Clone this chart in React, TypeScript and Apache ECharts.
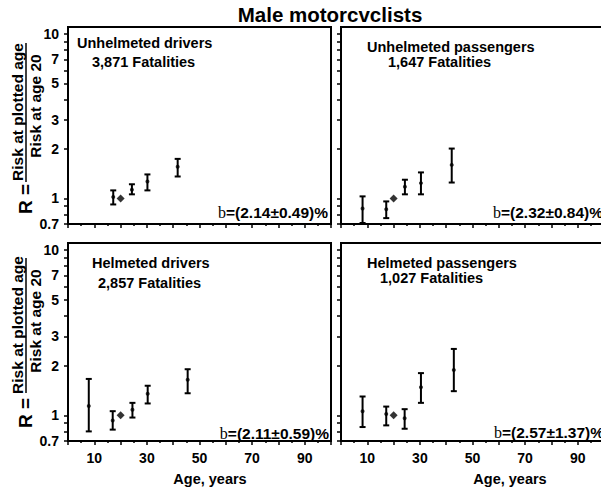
import { useEffect, useRef } from "react";
import * as echarts from "echarts";

// ---- data ----
const panelTitles = ["Unhelmeted drivers", "Unhelmeted passengers", "Helmeted drivers", "Helmeted passengers"];
const panelCounts = ["3,871 Fatalities", "1,647 Fatalities", "2,857 Fatalities", "1,027 Fatalities"];
const panelSlopes = ["=(2.14±0.49)%", "=(2.32±0.84)%", "=(2.11±0.59)%", "=(2.57±1.37)%"];

const refAge = 20;
const refR = 1;

const agesUD = [17.2, 24.3, 30.2, 41.7];
const rUD = [1.02, 1.13, 1.27, 1.56];
const loUD = [0.92, 1.06, 1.12, 1.36];
const hiUD = [1.12, 1.22, 1.4, 1.74];

const agesUP = [8.2, 17.2, 24.3, 30.4, 42.1];
const rUP = [0.87, 0.86, 1.18, 1.24, 1.6];
const loUP = [0.71, 0.76, 1.06, 1.06, 1.25];
const hiUP = [1.03, 0.96, 1.3, 1.44, 2.01];

const agesHD = [7.9, 17.0, 24.5, 30.3, 45.5];
const rHD = [1.14, 0.93, 1.08, 1.35, 1.64];
const loHD = [0.8, 0.82, 0.97, 1.18, 1.36];
const hiHD = [1.66, 1.06, 1.19, 1.51, 1.9];

const agesHP = [8.2, 17.2, 24.2, 30.4, 42.9];
const rHP = [1.06, 1.02, 0.96, 1.48, 1.88];
const loHP = [0.85, 0.87, 0.83, 1.19, 1.4];
const hiHP = [1.3, 1.13, 1.09, 1.8, 2.52];

const yTickValues = [0.7, 0.8, 0.9, 1, 2, 3, 4, 5, 6, 7, 8, 9, 10];
const yLabelValues = [0.7, 1, 2, 3, 5, 7, 10];
const xLabelValues = [10, 30, 50, 70, 90];
const yMin = 0.7;
const yMax = 11;
const xMin = 0;
const xMax = 100;

const FONT = "'Liberation Sans', Arial, sans-serif";

const panels = [
  { ages: agesUD, r: rUD, lo: loUD, hi: hiUD },
  { ages: agesUP, r: rUP, lo: loUP, hi: hiUP },
  { ages: agesHD, r: rHD, lo: loHD, hi: hiHD },
  { ages: agesHP, r: rHP, lo: loHP, hi: hiHP },
];

// the chart canvas is wider than the visible 601 px; the right-hand panels run past the edge
const CHART_W = 640;
const gridPos = [
  { left: 68, top: 27, width: 263, height: 197 },
  { left: 341, top: 27, width: 263, height: 197 },
  { left: 68, top: 243, width: 263, height: 198 },
  { left: 341, top: 243, width: 263, height: 198 },
];

function fmtY(v: number) {
  const r = Math.pow(10, v);
  return r < 0.95 ? r.toFixed(1) : String(Math.round(r));
}

export default function App() {
  const ref = useRef<HTMLDivElement>(null);
  useEffect(() => {
    if (!ref.current) return;
    const chart = echarts.init(ref.current, null, { renderer: "svg" });
    const L = Math.log10;

    const grid = gridPos.map((g) => ({
      ...g,
      outerBoundsMode: "none",
      containLabel: false,
      show: true,
      borderColor: "#000",
      borderWidth: 2,
      backgroundColor: "transparent",
    }));

    const xAxis = panels.map((_, i) => ({
      type: "value",
      gridIndex: i,
      min: xMin,
      max: xMax,
      interval: 10,
      axisLine: { show: true, onZero: false, lineStyle: { color: "#000", width: 2 } },
      axisTick: { show: true, length: 4, lineStyle: { color: "#000", width: 1.5 } },
      minorTick: { show: true, splitNumber: 2, length: 2, lineStyle: { color: "#000", width: 1.5 } },
      splitLine: { show: false },
      axisLabel: {
        show: i >= 2,
        customValues: xLabelValues,
        color: "#000",
        fontWeight: "bold",
        fontSize: 14,
        fontFamily: FONT,
        margin: 10,
      },
    }));

    const yAxis = panels.map((_, i) => ({
      type: "value",
      gridIndex: i,
      min: L(yMin),
      max: L(yMax),
      axisLine: { show: true, lineStyle: { color: "#000", width: 2 } },
      axisTick: {
        show: true,
        length: 4,
        customValues: yTickValues.map(L),
        lineStyle: { color: "#000", width: 1.5 },
      },
      splitLine: { show: false },
      axisLabel: {
        show: i % 2 === 0,
        customValues: yLabelValues.map(L),
        formatter: (v: number) => fmtY(v),
        color: "#000",
        fontWeight: "bold",
        fontSize: 14,
        fontFamily: FONT,
        margin: 9,
      },
    }));

    const series: any[] = [];
    panels.forEach((p, i) => {
      series.push({
        type: "custom",
        xAxisIndex: i,
        yAxisIndex: i,
        data: p.ages.map((a, j) => [a, L(p.lo[j]), L(p.hi[j])]),
        encode: { x: 0, y: [1, 2] },
        renderItem: (_params: any, api: any) => {
          const x = api.value(0);
          const a = api.coord([x, api.value(1)]);
          const b = api.coord([x, api.value(2)]);
          const w = 3;
          const st = { stroke: "#000", lineWidth: 2 };
          return {
            type: "group",
            children: [
              { type: "line", shape: { x1: a[0], y1: a[1], x2: b[0], y2: b[1] }, style: st },
              { type: "line", shape: { x1: a[0] - w, y1: a[1], x2: a[0] + w, y2: a[1] }, style: st },
              { type: "line", shape: { x1: b[0] - w, y1: b[1], x2: b[0] + w, y2: b[1] }, style: st },
            ],
          };
        },
      });
      series.push({
        type: "scatter",
        xAxisIndex: i,
        yAxisIndex: i,
        symbol: "circle",
        symbolSize: 4,
        itemStyle: { color: "#000" },
        data: p.ages.map((a, j) => [a, L(p.r[j])]),
      });
      series.push({
        type: "scatter",
        xAxisIndex: i,
        yAxisIndex: i,
        symbol: "diamond",
        symbolSize: 8,
        itemStyle: { color: "#000" },
        data: [[refAge, L(refR)]],
      });
    });

    const txt = (text: string, x: number, y: number, size: number, align = "left", extra: any = {}) => ({
      type: "text",
      x,
      y,
      ...extra,
      style: {
        text,
        x: 0,
        y: 0,
        fill: "#000",
        font: `bold ${size}px ${FONT}`,
        align,
        verticalAlign: "middle",
      },
    });

    const labelPos = [
      { t: [77, 43], c: [92, 62], b: [328, 212], ba: "right" },
      { t: [367, 47], c: [388, 62], b: [493, 212], ba: "left" },
      { t: [92, 263], c: [98, 283], b: [329, 433], ba: "right" },
      { t: [367, 263], c: [380, 278], b: [494, 432], ba: "left" },
    ];

    const graphic: any[] = [];
    graphic.push(txt("Male motorcvclists", 330, 14, 20.5, "center"));
    labelPos.forEach((lp, i) => {
      graphic.push(txt(panelTitles[i], lp.t[0], lp.t[1], 14.5));
      graphic.push(txt(panelCounts[i], lp.c[0], lp.c[1], 14.5));
      graphic.push({
        type: "text",
        x: lp.b[0],
        y: lp.b[1],
        style: {
          text: `{s|b}{n|${panelSlopes[i]}}`,
          align: lp.ba,
          verticalAlign: "middle",
          rich: {
            s: { font: `16px 'Liberation Serif', 'Times New Roman', serif`, fill: "#000" },
            n: { font: `bold 15.5px ${FONT}`, fill: "#000" },
          },
        },
      });
    });

    // y-axis titles (rotated fraction)
    const yTitle = [
      { num: 112, den: 106, r: 199, lineTop: 43, lineBot: 182 },
      { num: 325, den: 321, r: 413, lineTop: 258, lineBot: 393 },
    ];
    yTitle.forEach((yt) => {
      graphic.push(txt("Risk at plotted age", 17, yt.num, 15.5, "center", { rotation: Math.PI / 2 }));
      graphic.push(txt("Risk at age 20", 35, yt.den, 15.5, "center", { rotation: Math.PI / 2 }));
      graphic.push(txt("R =", 25, yt.r, 19, "center", { rotation: Math.PI / 2 }));
      graphic.push({
        type: "line",
        shape: { x1: 26, y1: yt.lineTop, x2: 26, y2: yt.lineBot },
        style: { stroke: "#000", lineWidth: 1.5 },
      });
    });

    graphic.push(txt("Age, years", 210, 479, 14.5, "center"));
    graphic.push(txt("Age, years", 510, 479, 14.5, "center"));

    chart.setOption({
      animation: false,
      backgroundColor: "#fff",
      grid,
      xAxis,
      yAxis,
      series,
      graphic,
    } as any);

    return () => chart.dispose();
  }, []);

  return (
    <div
      style={{
        position: "absolute",
        left: 0,
        top: 0,
        width: 601,
        height: 490,
        overflow: "hidden",
        background: "#fff",
      }}
    >
      <div ref={ref} style={{ width: CHART_W, height: 490 }} />
    </div>
  );
}
